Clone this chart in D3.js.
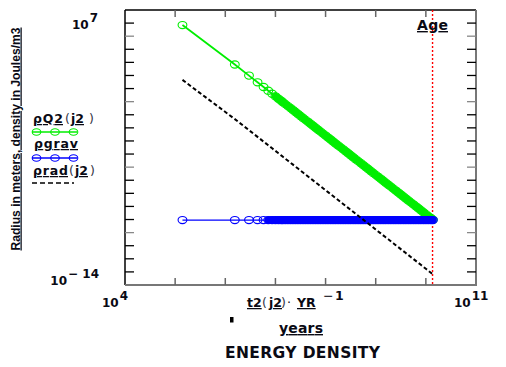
<!DOCTYPE html>
<html><head><meta charset="utf-8">
<script src="https://cdn.jsdelivr.net/npm/d3@7/dist/d3.min.js"></script>
<style>body{margin:0;background:#fff}svg text{font-family:"DejaVu Sans",Verdana,sans-serif;font-weight:bold;fill:#0a0a14}</style>
</head><body><svg id="c" width="506" height="367"></svg>
<script>
// t2(j2)*YR^-1 in years
const years = [1.4e5, 1.55e6, 2.97e6, 4.4e6, 5.8e6, 7.2e6, 8.6e6, 1.0e7, 1.15e7, 1.3e7,
  1.41e7, 1.58e7, 1.78e7, 2.00e7, 2.24e7, 2.51e7, 2.82e7, 3.16e7, 3.55e7, 3.98e7, 4.47e7, 5.01e7, 5.62e7, 6.31e7, 7.08e7, 7.94e7, 8.91e7, 1.00e8, 1.12e8, 1.26e8,
  1.41e8, 1.58e8, 1.78e8, 2.00e8, 2.24e8, 2.51e8, 2.82e8, 3.16e8, 3.55e8, 3.98e8, 4.47e8, 5.01e8, 5.62e8, 6.31e8, 7.08e8, 7.94e8, 8.91e8, 1.00e9, 1.12e9, 1.26e9,
  1.41e9, 1.58e9, 1.78e9, 2.00e9, 2.24e9, 2.51e9, 2.82e9, 3.16e9, 3.55e9, 3.98e9, 4.47e9, 5.01e9, 5.62e9, 6.31e9, 7.08e9, 7.94e9, 8.91e9, 1.00e10, 1.12e10, 1.26e10,
  1.38e10];
const rhoQ2 = [7.1e5, 690, 98.1, 30.2, 13.2, 6.89, 4.04, 2.57, 1.69, 1.17,
  9.12e-1, 6.46e-1, 4.57e-1, 3.24e-1, 2.29e-1, 1.62e-1, 1.15e-1, 8.13e-2, 5.75e-2, 4.07e-2, 2.88e-2, 2.04e-2, 1.45e-2, 1.02e-2, 7.24e-3, 5.13e-3, 3.63e-3, 2.57e-3, 1.82e-3, 1.29e-3,
  9.12e-4, 6.46e-4, 4.57e-4, 3.24e-4, 2.29e-4, 1.62e-4, 1.15e-4, 8.13e-5, 5.75e-5, 4.07e-5, 2.88e-5, 2.04e-5, 1.45e-5, 1.02e-5, 7.24e-6, 5.13e-6, 3.63e-6, 2.57e-6, 1.82e-6, 1.29e-6,
  9.12e-7, 6.46e-7, 4.57e-7, 3.24e-7, 2.29e-7, 1.62e-7, 1.15e-7, 8.13e-8, 5.75e-8, 4.07e-8, 2.88e-8, 2.04e-8, 1.45e-8, 1.02e-8, 7.24e-9, 5.13e-9, 3.63e-9, 2.57e-9, 1.82e-9, 1.29e-9,
  9.5e-10];
const rhoGrav = [9.1e-10, 9.1e-10, 9.1e-10, 9.1e-10, 9.1e-10, 9.1e-10, 9.1e-10, 9.1e-10, 9.1e-10, 9.1e-10,
  9.1e-10, 9.1e-10, 9.1e-10, 9.1e-10, 9.1e-10, 9.1e-10, 9.1e-10, 9.1e-10, 9.1e-10, 9.1e-10, 9.1e-10, 9.1e-10, 9.1e-10, 9.1e-10, 9.1e-10, 9.1e-10, 9.1e-10, 9.1e-10, 9.1e-10, 9.1e-10,
  9.1e-10, 9.1e-10, 9.1e-10, 9.1e-10, 9.1e-10, 9.1e-10, 9.1e-10, 9.1e-10, 9.1e-10, 9.1e-10, 9.1e-10, 9.1e-10, 9.1e-10, 9.1e-10, 9.1e-10, 9.1e-10, 9.1e-10, 9.1e-10, 9.1e-10, 9.1e-10,
  9.1e-10, 9.1e-10, 9.1e-10, 9.1e-10, 9.1e-10, 9.1e-10, 9.1e-10, 9.1e-10, 9.1e-10, 9.1e-10, 9.1e-10, 9.1e-10, 9.1e-10, 9.1e-10, 9.1e-10, 9.1e-10, 9.1e-10, 9.1e-10, 9.1e-10, 9.1e-10,
  9.1e-10];
const rhoRad = [46, 0.0466, 6.63e-3, 2.04e-3, 8.92e-4, 4.66e-4, 2.73e-4, 1.74e-4, 1.14e-4, 7.91e-5,
  6.17e-5, 4.37e-5, 3.09e-5, 2.19e-5, 1.55e-5, 1.10e-5, 7.76e-6, 5.50e-6, 3.89e-6, 2.75e-6, 1.95e-6, 1.38e-6, 9.77e-7, 6.92e-7, 4.90e-7, 3.47e-7, 2.45e-7, 1.74e-7, 1.23e-7, 8.71e-8,
  6.17e-8, 4.37e-8, 3.09e-8, 2.19e-8, 1.55e-8, 1.10e-8, 7.76e-9, 5.50e-9, 3.89e-9, 2.75e-9, 1.95e-9, 1.38e-9, 9.77e-10, 6.92e-10, 4.90e-10, 3.47e-10, 2.45e-10, 1.74e-10, 1.23e-10, 8.71e-11,
  6.17e-11, 4.37e-11, 3.09e-11, 2.19e-11, 1.55e-11, 1.10e-11, 7.76e-12, 5.50e-12, 3.89e-12, 2.75e-12, 1.95e-12, 1.38e-12, 9.77e-13, 6.92e-13, 4.90e-13, 3.47e-13, 2.45e-13, 1.74e-13, 1.23e-13, 8.71e-14,
  6.6e-14];
const ageYears = 1.36e10;
const xDomain = [1e4, 1e11];
const yDomain = [1e-14, 1e7];
const xLimitExps = ["4", "11"];
const yLimitExps = ["7", "\u2212 14"];

const svg = d3.select("#c");
const L = 125, R = 476, T = 10, B = 285;
const x = d3.scaleLog().domain(xDomain).range([L, R]);
const y = d3.scaleLog().domain(yDomain).range([B, T]);
const isDecade = v => Math.abs(Math.log10(v) - Math.round(Math.log10(v))) < 1e-9;

// frame
svg.append("line").attr("x1", L).attr("x2", R).attr("y1", T).attr("y2", T).attr("stroke", "#000").attr("stroke-width", 1.5);
svg.append("line").attr("x1", L).attr("x2", L).attr("y1", T).attr("y2", B).attr("stroke", "#000").attr("stroke-width", 1.5);
svg.append("line").attr("x1", R).attr("x2", R).attr("y1", T).attr("y2", B + 1).attr("stroke", "#777").attr("stroke-width", 2);
svg.append("line").attr("x1", L).attr("x2", R).attr("y1", B).attr("y2", B).attr("stroke", "#777").attr("stroke-width", 2);

// ticks
const xt = x.ticks(20).filter(isDecade).filter(v => v > xDomain[0] && v < xDomain[1]);
xt.forEach(v => {
  svg.append("line").attr("x1", x(v)).attr("x2", x(v)).attr("y1", B).attr("y2", B - 7).attr("stroke", "#666").attr("stroke-width", 1.5);
  svg.append("line").attr("x1", x(v)).attr("x2", x(v)).attr("y1", T).attr("y2", T + 7).attr("stroke", "#666").attr("stroke-width", 1.5);
});
const yt = y.ticks(40).filter(isDecade).filter(v => v > yDomain[0] && v < yDomain[1]);
yt.forEach(v => {
  const e = Math.round(Math.log10(v));
  const c = (e % 5 === 0) ? "#888" : "#000";
  svg.append("line").attr("y1", y(v)).attr("y2", y(v)).attr("x1", L).attr("x2", L + 9).attr("stroke", c).attr("stroke-width", 1.3);
  svg.append("line").attr("y1", y(v)).attr("y2", y(v)).attr("x1", R - 9).attr("x2", R).attr("stroke", c).attr("stroke-width", 1.3);
});

// limit labels
function pow10(g, xx, yy, exp, anchor) {
  const t = g.append("text").attr("x", xx).attr("y", yy).attr("font-size", 12).attr("text-anchor", anchor);
  t.append("tspan").text("10");
  t.append("tspan").attr("dy", -7).attr("dx", 1).text(exp);
  return t;
}
pow10(svg, x(xDomain[0]) - 23, 307, xLimitExps[0], "start");
pow10(svg, x(xDomain[1]) - 22, 307, xLimitExps[1], "start");
pow10(svg, 98, 29, yLimitExps[0], "end");
pow10(svg, 99, B, yLimitExps[1], "end");

// age line
svg.append("line").attr("x1", x(ageYears)).attr("x2", x(ageYears)).attr("y1", T).attr("y2", B)
  .attr("stroke", "#f00").attr("stroke-width", 1.4).attr("stroke-dasharray", "2,2");
svg.append("text").attr("x", 417).attr("y", 30).attr("font-size", 14).attr("text-decoration", "underline").attr("textLength", 31).text("Age");

// series
const ptsQ2 = years.map((t, i) => [x(t), y(rhoQ2[i])]);
const ptsG = years.map((t, i) => [x(t), y(rhoGrav[i])]);
const ptsR = years.map((t, i) => [x(t), y(rhoRad[i])]);
const line = d3.line();

function drawSeries(pts, color, lw, bandW) {
  const g = svg.append("g");
  // where markers crowd together they merge into a solid band
  let d = "";
  for (let i = 1; i < pts.length; i++) {
    const [x0, y0] = pts[i - 1], [x1, y1] = pts[i];
    if (Math.hypot(x1 - x0, y1 - y0) < 4) d += `M${x0},${y0}L${x1},${y1}`;
  }
  g.append("path").attr("d", d).attr("stroke", color).attr("stroke-width", bandW).attr("stroke-linecap", "round").attr("fill", "none");
  g.append("path").attr("d", line(pts)).attr("stroke", color).attr("stroke-width", lw).attr("fill", "none");
  g.selectAll("ellipse").data(pts).join("ellipse")
    .attr("cx", p => p[0]).attr("cy", p => p[1]).attr("rx", 4.4).attr("ry", 3.6)
    .attr("fill", "none").attr("stroke", color).attr("stroke-width", 1.1);
}
drawSeries(ptsQ2, "#00ee00", 1.8, 7.5);
drawSeries(ptsG, "#0000ff", 1.2, 7.5);
svg.append("path").attr("d", line(ptsR)).attr("stroke", "#000").attr("stroke-width", 2).attr("fill", "none").attr("stroke-dasharray", "4,2.5");

// legend
function legendSwatch(yy, color, dashed) {
  if (dashed) {
    svg.append("line").attr("x1", 32).attr("x2", 74).attr("y1", yy).attr("y2", yy).attr("stroke", "#000").attr("stroke-width", 1.6).attr("stroke-dasharray", "5,3");
    return;
  }
  svg.append("line").attr("x1", 32).attr("x2", 77).attr("y1", yy).attr("y2", yy).attr("stroke", color).attr("stroke-width", 1.3);
  [36.5, 55, 73.5].forEach(cx => svg.append("ellipse").attr("cx", cx).attr("cy", yy).attr("rx", 4.3).attr("ry", 3.2)
    .attr("fill", "none").attr("stroke", color).attr("stroke-width", 1.1));
}
function legendText(yy, parts) {
  const t = svg.append("text").attr("y", yy).attr("font-size", 12.5);
  parts.forEach(p => {
    const s = t.append("tspan").attr("x", p.x).text(p.s);
    if (p.u) s.attr("text-decoration", "underline");
    if (p.n) s.attr("font-weight", "normal").style("fill", "#334");
    if (p.w) s.attr("textLength", p.w);
  });
}
legendText(123, [{x: 33, s: "\u03c1Q2", u: 1, w: 30}, {x: 65, s: "(", n: 1}, {x: 71, s: "j2", u: 1}, {x: 89, s: ")", n: 1}]);
legendSwatch(132, "#00ee00");
legendText(148, [{x: 34, s: "\u03c1grav", u: 1, w: 44}]);
legendSwatch(158, "#0000ff");
legendText(175, [{x: 33, s: "\u03c1rad", u: 1, w: 35}, {x: 69, s: "(", n: 1}, {x: 75, s: "j2", u: 1}, {x: 90, s: ")", n: 1}]);
legendSwatch(183, "#000", true);

// x axis title
const xt1 = svg.append("text").attr("y", 307).attr("font-size", 12.5);
xt1.append("tspan").attr("x", 247).attr("text-decoration", "underline").text("t2");
xt1.append("tspan").attr("x", 262).attr("font-weight", "normal").style("fill", "#334").text("(");
xt1.append("tspan").attr("x", 269).attr("text-decoration", "underline").text("j2");
xt1.append("tspan").attr("x", 281).attr("font-weight", "normal").style("fill", "#334").text(")");
xt1.append("tspan").attr("x", 287).attr("font-weight", "normal").text("\u00b7");
xt1.append("tspan").attr("x", 297).attr("text-decoration", "underline").text("YR");
xt1.append("tspan").attr("x", 323).attr("dy", -7).attr("font-weight", "normal").text("\u2212");
xt1.append("tspan").attr("x", 335).text("1");
svg.append("rect").attr("x", 230).attr("y", 317).attr("width", 3.5).attr("height", 5.5).attr("fill", "#000");
svg.append("text").attr("x", 279).attr("y", 333).attr("font-size", 14).attr("text-decoration", "underline").attr("textLength", 44).text("years");
svg.append("text").attr("x", 225).attr("y", 358).attr("font-size", 15.5).attr("textLength", 155).text("ENERGY DENSITY");

// y axis title
svg.append("text").attr("transform", "translate(19.5,139) rotate(-90)").attr("text-anchor", "middle")
  .attr("font-size", 12.5).attr("textLength", 223).attr("lengthAdjust", "spacingAndGlyphs")
  .style("font-family", "'Liberation Sans',Arial,sans-serif").attr("text-decoration", "underline")
  .text("Radius in meters, density in Joules/m3");
</script></body></html>
